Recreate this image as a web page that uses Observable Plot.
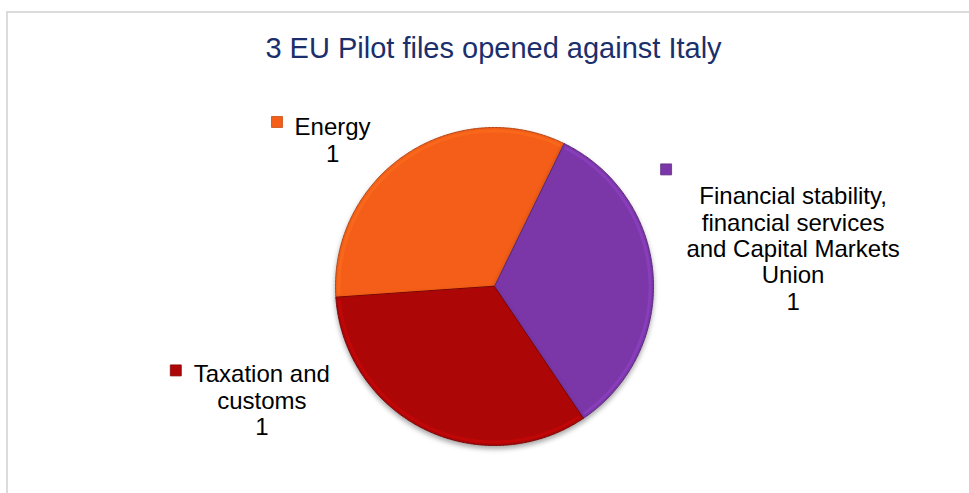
<!DOCTYPE html>
<html><head><meta charset="utf-8">
<script src="https://cdn.jsdelivr.net/npm/d3@7"></script>
<script src="https://cdn.jsdelivr.net/npm/@observablehq/plot@0.6"></script>
<style>
html,body{margin:0;padding:0;background:#fff;}
#wrap{position:relative;width:969px;height:493px;overflow:hidden;font-family:"Liberation Sans",Arial,sans-serif;}
#frame{position:absolute;left:6px;top:11px;width:1000px;height:520px;border:2px solid #dcdcdc;box-sizing:border-box;}
#title{position:relative;height:70px;box-sizing:border-box;padding-top:34px;padding-left:18px;text-align:center;font-size:29px;line-height:29px;color:#1a2f6b;white-space:nowrap;}
#chart{position:relative;}
#chart svg{overflow:visible;}
</style></head><body>
<div id="wrap"><div id="frame"></div><div id="title">3 EU Pilot files opened against Italy</div><div id="chart"></div></div>
<script>
// ---- data ----
const categories = ["Energy", "Financial stability, financial services and Capital Markets Union", "Taxation and customs"];
const values = [1, 1, 1];
const labelLines = [["Energy"], ["Financial stability,", "financial services", "and Capital Markets", "Union"], ["Taxation and", "customs"]];
const colors = ["#F45E18", "#7B37A8", "#AD0607"];

// ---- layout (styles) ----
const R = 159; // px per data unit
const startDeg = -94;
const offsets = { // pixel offsets of label block / legend key from the slice's outer mid point
  [categories[0]]: {tdx: -73, tdy: -38, mdx: -128.6, mdy: -32.7},
  [categories[1]]: {tdx: 140, tdy: -90, mdx: 13, mdy: -106},
  [categories[2]]: {tdx: -163, tdy: -66, mdx: -249, mdy: -59}
};

const rows = categories.map((c, i) => ({cat: c, value: values[i], color: colors[i], lines: labelLines[i]}));
const arcs = d3.pie().sort(null).value(d => d.value)
  .startAngle(startDeg * Math.PI / 180).endAngle((startDeg + 360) * Math.PI / 180)(rows);

function arcPts(a0, a1, r) {
  const pts = [];
  const n = Math.max(2, Math.ceil((a1 - a0) / (Math.PI / 360)));
  for (let k = 0; k <= n; k++) {
    const t = a0 + (a1 - a0) * k / n;
    pts.push({x: r * Math.sin(t), y: r * Math.cos(t)});
  }
  return pts;
}

const slices = arcs.map(a => ({row: a.data, a, pts: [{x: 0, y: 0}, ...arcPts(a.startAngle, a.endAngle, 1)]}));

const labels = arcs.map(a => {
  const m = (a.startAngle + a.endAngle) / 2;
  const o = offsets[a.data.cat];
  const px = Math.sin(m), py = Math.cos(m);
  return {
    cat: a.data.cat, color: a.data.color,
    text: [...a.data.lines, String(a.data.value)].join("\n"),
    tx: px + o.tdx / R, ty: py - o.tdy / R,
    mx: px + o.mdx / R, my: py - o.mdy / R
  };
});

const marks = [];
for (const s of slices) {
  const c = s.row.color;
  marks.push(Plot.line(s.pts, {x: "x", y: "y", curve: "linear-closed", fill: c, stroke: d3.color(c).darker(0.9).formatHex(), strokeWidth: 1}));
}
// soft bevel highlight along the outer rim of each slice
for (const s of slices) {
  const c = s.row.color;
  const pad = 0.025;
  marks.push(Plot.line(arcPts(s.a.startAngle + pad, s.a.endAngle - pad, 0.978), {x: "x", y: "y", stroke: d3.color(c).brighter(0.6).formatHex(), strokeWidth: 3, strokeOpacity: 0.45}));
}
marks.push(Plot.dot(labels, {x: "mx", y: "my", symbol: "square", r: 6.2, fill: "color", stroke: d => d3.color(d.color).darker(0.6).formatHex(), strokeWidth: 0.8}));
marks.push(Plot.text(labels, {x: "tx", y: "ty", text: "text", lineAnchor: "top", textAnchor: "middle", fontSize: 24, lineHeight: 1.1, fill: "#000", fontFamily: "Liberation Sans, Arial, sans-serif"}));

const chart = Plot.plot({
  width: 969, height: 423,
  margin: 0,
  x: {domain: [-1, 1], range: [494 - R, 494 + R], axis: null},
  y: {domain: [-1, 1], range: [216 + R, 216 - R], axis: null},
  color: {type: "identity"},
  style: {background: "transparent", overflow: "visible"},
  marks
});
const lineGroups = chart.querySelectorAll('g[aria-label="line"]');
for (let i = 0; i < slices.length && i < lineGroups.length; i++) {
  lineGroups[i].style.filter = "drop-shadow(0px 3px 2.5px rgba(0,0,0,0.35))";
}
document.getElementById("chart").append(chart);
</script>
</body></html>
